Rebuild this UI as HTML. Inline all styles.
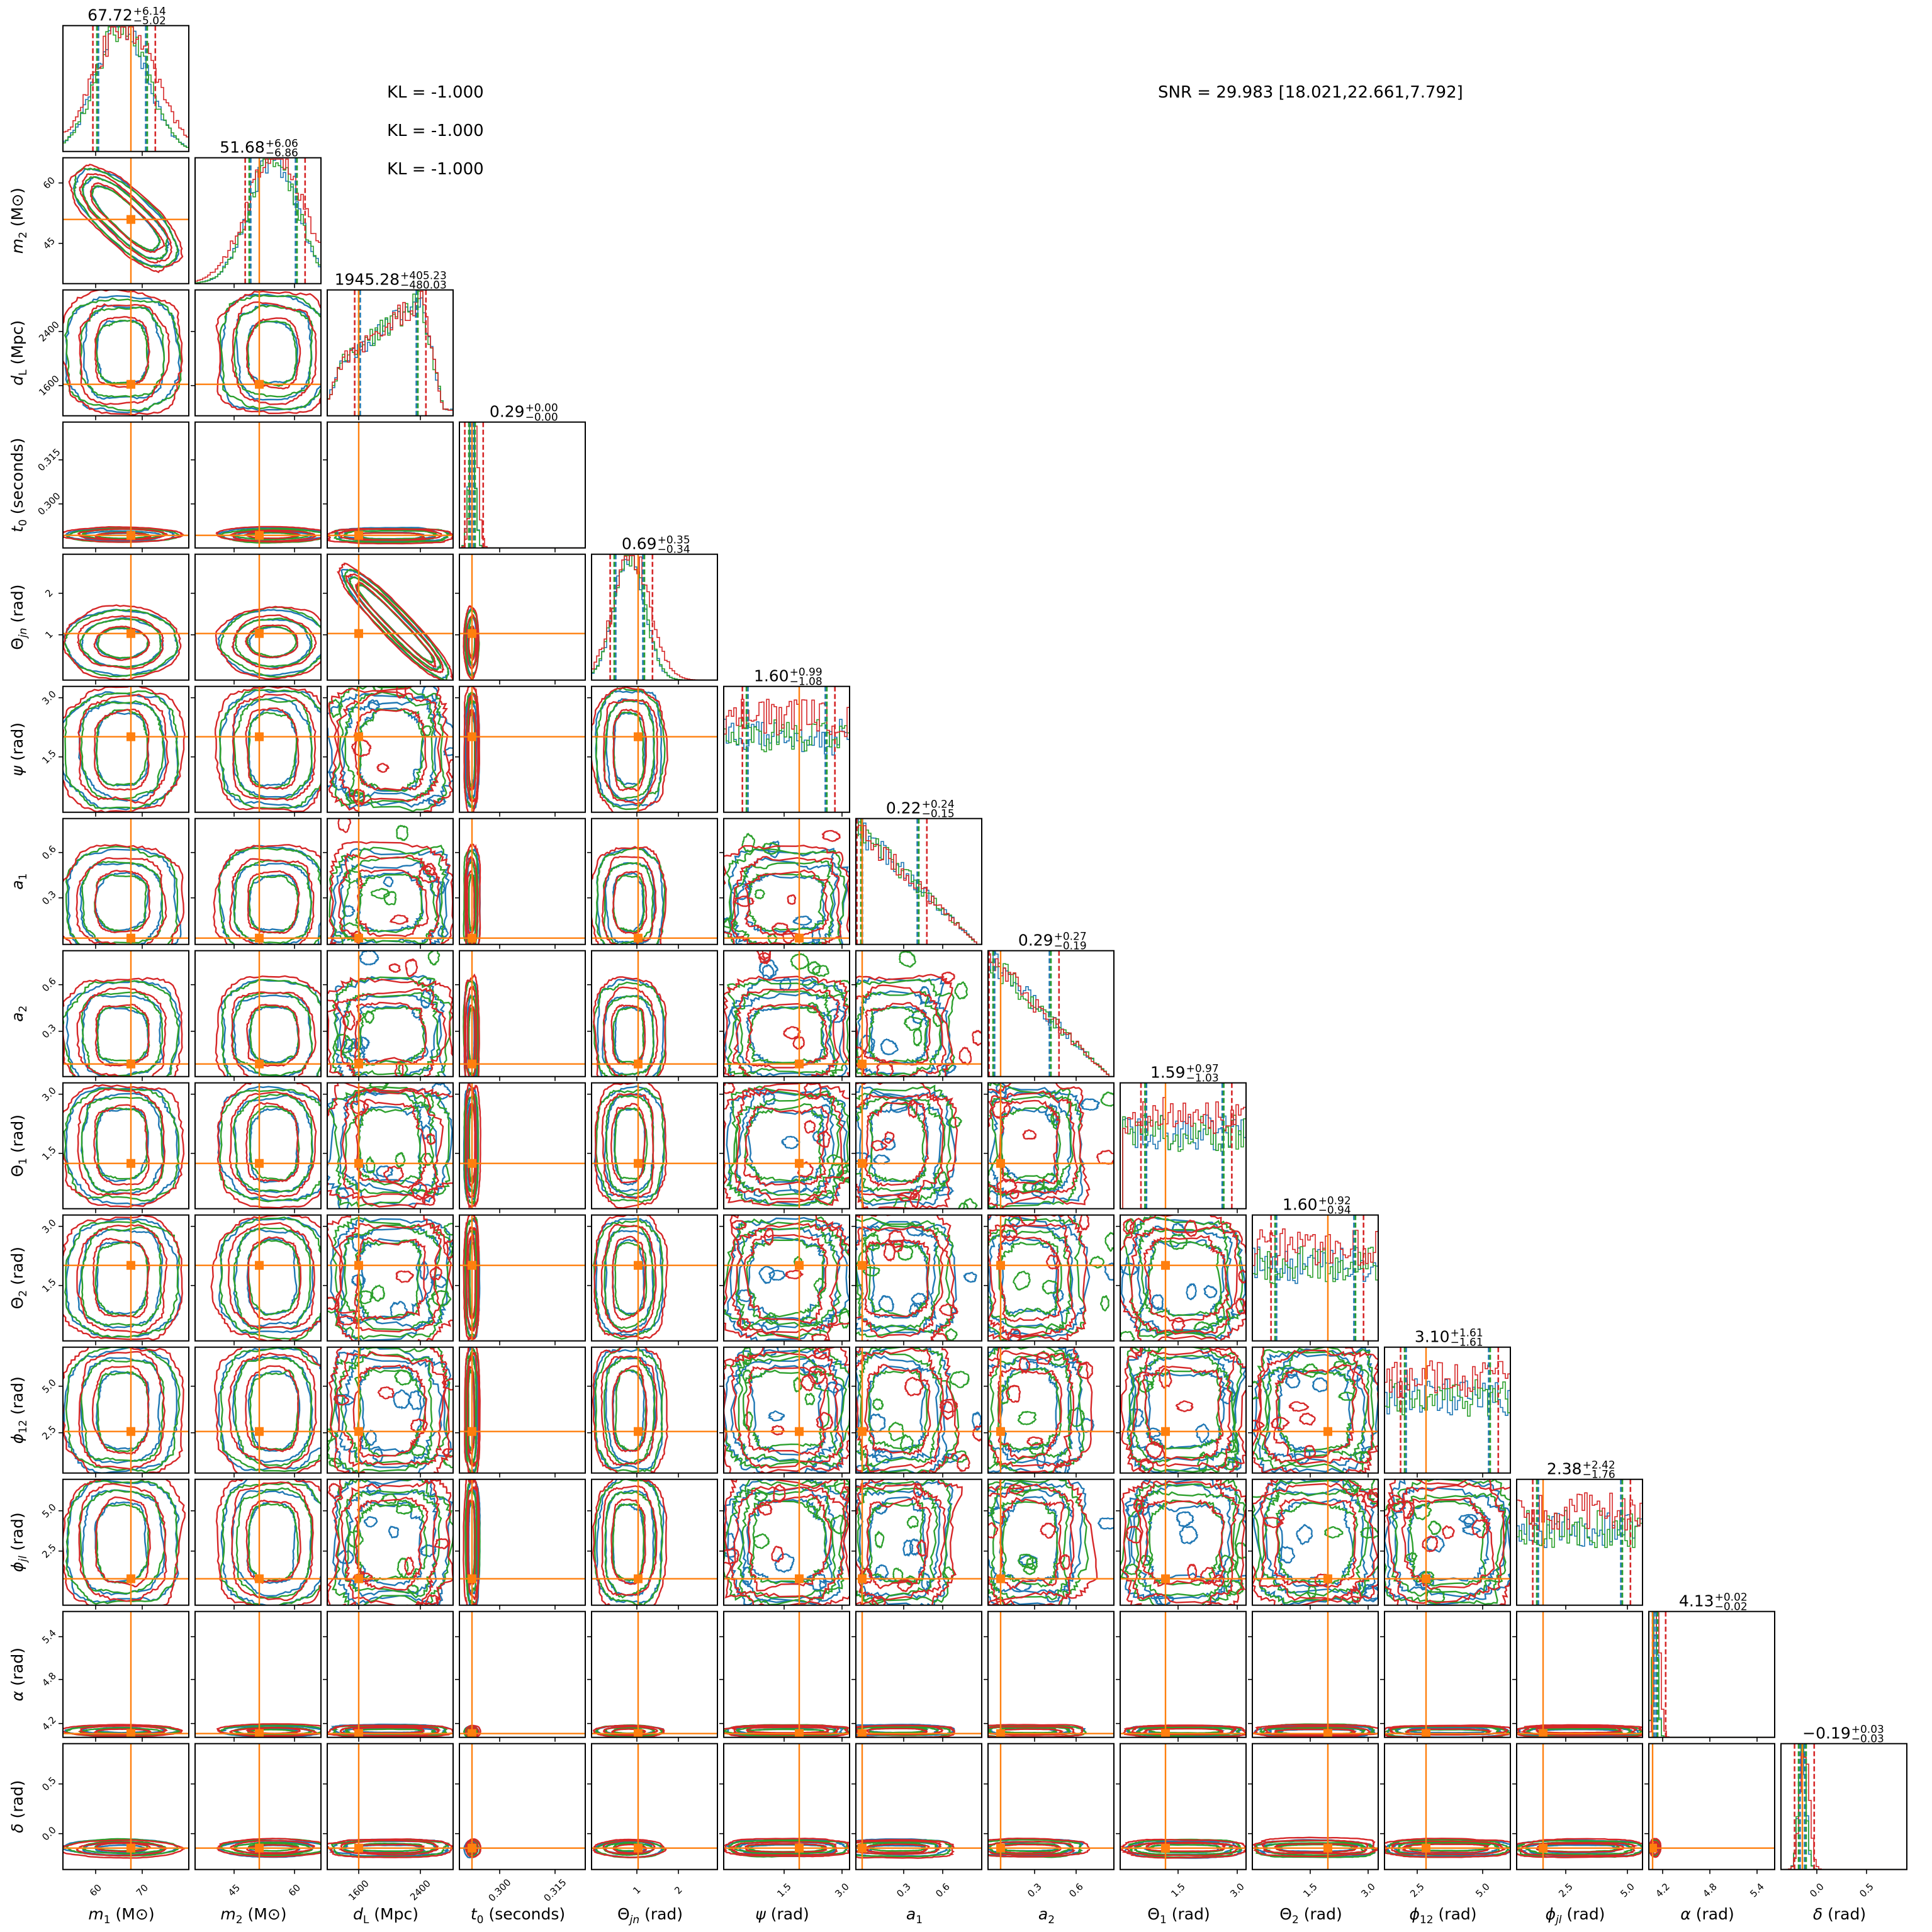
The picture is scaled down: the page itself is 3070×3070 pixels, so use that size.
<!DOCTYPE html>
<html><head><meta charset="utf-8"><style>
html,body{margin:0;padding:0;background:#fff;}
svg{display:block;font-family:"DejaVu Sans","Liberation Sans",sans-serif;}
</style></head><body>
<svg id="s" width="3070" height="3070" viewBox="0 0 3070 3070" xmlns="http://www.w3.org/2000/svg">
<rect width="3070" height="3070" fill="#fff"/>
<text x="615" y="155" font-size="26">KL = -1.000</text>
<text x="615" y="216" font-size="26">KL = -1.000</text>
<text x="615" y="277" font-size="26">KL = -1.000</text>
<text x="1840" y="155" font-size="26">SNR = 29.983 [18.021,22.661,7.792]</text>
<text x="193" y="3050" font-size="25" text-anchor="middle"><tspan font-style="italic">m</tspan><tspan font-size="17" dy="6">1</tspan><tspan dy="-6"> (M</tspan><tspan>⊙)</tspan></text>
<text x="403" y="3050" font-size="25" text-anchor="middle"><tspan font-style="italic">m</tspan><tspan font-size="17" dy="6">2</tspan><tspan dy="-6"> (M⊙)</tspan></text>
<text x="613" y="3050" font-size="25" text-anchor="middle"><tspan font-style="italic">d</tspan><tspan font-size="17" dy="6">L</tspan><tspan dy="-6"> (Mpc)</tspan></text>
<text x="823" y="3050" font-size="25" text-anchor="middle"><tspan font-style="italic">t</tspan><tspan font-size="17" dy="6">0</tspan><tspan dy="-6"> (seconds)</tspan></text>
<text x="1033" y="3050" font-size="25" text-anchor="middle"><tspan>Θ</tspan><tspan font-size="17" dy="6" font-style="italic">jn</tspan><tspan dy="-6"> (rad)</tspan></text>
<text x="1243" y="3050" font-size="25" text-anchor="middle"><tspan font-style="italic">ψ</tspan><tspan> (rad)</tspan></text>
<text x="1453" y="3050" font-size="25" text-anchor="middle"><tspan font-style="italic">a</tspan><tspan font-size="17" dy="6">1</tspan></text>
<text x="1663" y="3050" font-size="25" text-anchor="middle"><tspan font-style="italic">a</tspan><tspan font-size="17" dy="6">2</tspan></text>
<text x="1873" y="3050" font-size="25" text-anchor="middle"><tspan>Θ</tspan><tspan font-size="17" dy="6">1</tspan><tspan dy="-6"> (rad)</tspan></text>
<text x="2083" y="3050" font-size="25" text-anchor="middle"><tspan>Θ</tspan><tspan font-size="17" dy="6">2</tspan><tspan dy="-6"> (rad)</tspan></text>
<text x="2293" y="3050" font-size="25" text-anchor="middle"><tspan font-style="italic">ϕ</tspan><tspan font-size="17" dy="6">12</tspan><tspan dy="-6"> (rad)</tspan></text>
<text x="2503" y="3050" font-size="25" text-anchor="middle"><tspan font-style="italic">ϕ</tspan><tspan font-size="17" dy="6" font-style="italic">jl</tspan><tspan dy="-6"> (rad)</tspan></text>
<text x="2713" y="3050" font-size="25" text-anchor="middle"><tspan font-style="italic">α</tspan><tspan> (rad)</tspan></text>
<text x="2923" y="3050" font-size="25" text-anchor="middle"><tspan font-style="italic">δ</tspan><tspan> (rad)</tspan></text>
<g id="g"></g>
</svg>
<script>
(function(){
var seed=12345;function rnd(){seed|=0;seed=seed+0x6D2B79F5|0;var t=Math.imul(seed^seed>>>15,1|seed);t=t+Math.imul(t^t>>>7,61|t)^t;return((t^t>>>14)>>>0)/4294967296;}
var S=200;function PX(i){return 100+210*i;}function PY(j){return 40.7+210*j;}
var C=['#1f77b4','#2ca02c','#d62728'],OR='#ff7f0e';
var P=[{t:'g',c:.47,s:.2,tr:.54},{t:'g',c:.62,s:.19,tr:.51},{t:'r',tr:.25},{t:'g',c:.1,s:.025,tr:.1},{t:'g',c:.3,s:.12,tr:.37},
{t:'u',lo:.03,hi:.97,tr:.6},{t:'d',tr:.05},{t:'d',tr:.1},{t:'u',lo:.05,hi:.97,tr:.36},{t:'u',lo:.03,hi:.97,tr:.6},{t:'u',lo:0,hi:1,tr:.33},{t:'u',lo:0,hi:1,tr:.21},{t:'g',c:.05,s:.02,tr:.03},{t:'g',c:.17,s:.03,tr:.17}];
var T=[['67.72','+6.14','−5.02'],['51.68','+6.06','−6.86'],['1945.28','+405.23','−480.03'],['0.29','+0.00','−0.00'],['0.69','+0.35','−0.34'],['1.60','+0.99','−1.08'],['0.22','+0.24','−0.15'],['0.29','+0.27','−0.19'],['1.59','+0.97','−1.03'],['1.60','+0.92','−0.94'],['3.10','+1.61','−1.61'],['2.38','+2.42','−1.76'],['4.13','+0.02','−0.02'],['−0.19','+0.03','−0.03']];
var XT=[[[.26,'60'],[.63,'70']],[[.31,'45'],[.79,'60']],[[.25,'1600'],[.74,'2400']],[[.32,'0.300'],[.76,'0.315']],[[.36,'1'],[.69,'2']],[[.48,'1.5'],[.94,'3.0']],[[.38,'0.3'],[.69,'0.6']],[[.37,'0.3'],[.70,'0.6']],[[.46,'1.5'],[.93,'3.0']],[[.46,'1.5'],[.92,'3.0']],[[.26,'2.5'],[.78,'5.0']],[[.39,'2.5'],[.88,'5.0']],[[.11,'4.2'],[.485,'4.8'],[.86,'5.4']],[[.285,'0.0'],[.68,'0.5']]];
var YT=[null,[[.2,'60'],[.68,'45']],[[.33,'2400'],[.76,'1600']],[[.30,'0.315'],[.65,'0.300']],[[.31,'2'],[.64,'1']],[[.09,'3.0'],[.56,'1.5']],[[.27,'0.6'],[.63,'0.3']],[[.27,'0.6'],[.64,'0.3']],[[.09,'3.0'],[.56,'1.5']],[[.09,'3.0'],[.56,'1.5']],[[.31,'5.0'],[.68,'2.5']],[[.25,'5.0'],[.57,'2.5']],[[.2,'5.4'],[.54,'4.8'],[.89,'4.2']],[[.32,'0.5'],[.715,'0.0']]];
var YL=['','<tspan font-style="italic">m</tspan><tspan font-size="17" dy="6">2</tspan><tspan dy="-6"> (M⊙)</tspan>','<tspan font-style="italic">d</tspan><tspan font-size="17" dy="6">L</tspan><tspan dy="-6"> (Mpc)</tspan>','<tspan font-style="italic">t</tspan><tspan font-size="17" dy="6">0</tspan><tspan dy="-6"> (seconds)</tspan>','Θ<tspan font-size="17" dy="6" font-style="italic">jn</tspan><tspan dy="-6"> (rad)</tspan>','<tspan font-style="italic">ψ</tspan> (rad)','<tspan font-style="italic">a</tspan><tspan font-size="17" dy="6">1</tspan>','<tspan font-style="italic">a</tspan><tspan font-size="17" dy="6">2</tspan>','Θ<tspan font-size="17" dy="6">1</tspan><tspan dy="-6"> (rad)</tspan>','Θ<tspan font-size="17" dy="6">2</tspan><tspan dy="-6"> (rad)</tspan>','<tspan font-style="italic">ϕ</tspan><tspan font-size="17" dy="6">12</tspan><tspan dy="-6"> (rad)</tspan>','<tspan font-style="italic">ϕ</tspan><tspan font-size="17" dy="6" font-style="italic">jl</tspan><tspan dy="-6"> (rad)</tspan>','<tspan font-style="italic">α</tspan> (rad)','<tspan font-style="italic">δ</tspan> (rad)'];
var o=[];
function axc(p){if(p.t=='g')return p.c;if(p.t=='u')return (p.lo+p.hi)/2;if(p.t=='r')return .5;return .33;}
function axh(p,l){if(p.t=='g')return p.s*[1,1.6,2.2][l];if(p.t=='u')return (p.hi-p.lo)/2*[.62,.82,.97][l];if(p.t=='r')return [.25,.36,.45][l];return [.22,.32,.42][l];}
function closed(cx,cy,hx,hy,pw,rot,nz){var n=110,ph=[],a=[];for(var k=0;k<9;k++){ph.push(rnd()*6.28);a.push((rnd()-.5)*nz/(1+k*.25));}
var d='';for(var q=0;q<n;q++){var th=q/n*6.283;var r=1;for(k=0;k<9;k++)r+=a[k]*Math.sin((k+2)*th+ph[k]);r+=(rnd()-.5)*nz*.5;
var c=Math.cos(th),s=Math.sin(th);var x=(c<0?-1:1)*Math.pow(Math.abs(c),2/pw)*hx*r,y=(s<0?-1:1)*Math.pow(Math.abs(s),2/pw)*hy*r;
var xr=x*Math.cos(rot)-y*Math.sin(rot),yr=x*Math.sin(rot)+y*Math.cos(rot);
d+=(q?'L':'M')+((cx+xr)*S).toFixed(1)+' '+((1-(cy+yr))*S).toFixed(1);}return d+'Z';}
function pdf(p,u){if(p.t=='g')return Math.exp(-(u-p.c)*(u-p.c)/(2*p.s*p.s));if(p.t=='u'){var e=.03;if(u<p.lo-e||u>p.hi+e)return 0;return .62;}
if(p.t=='r'){if(u<.0)return 0;if(u<.12)return .1+u*3;if(u<.75)return .45+.5*(u-.12)/.63;if(u<.92)return .95-(u-.75)*5.2;return .05;}return Math.max(0,.97-u*1.0);}
for(var j=0;j<14;j++)for(var i=0;i<=j;i++){
var x0=PX(i),y0=PY(j);
o.push('<svg x="'+x0+'" y="'+y0+'" width="'+S+'" height="'+S+'" overflow="hidden">');
if(i==j){var p=P[i];var nb=50;
for(var c=0;c<3;c++){var d='M0 '+S;for(var b=0;b<nb;b++){var u=(b+.5)/nb;var f=pdf(p,u);
if(p.t=='g'){var cs=p.s*(c==2?1.2:1),cc=p.c+(c==2?.02:0);f=Math.exp(-(u-cc)*(u-cc)/(2*cs*cs));f=f*1.05;}
if(f>0)f*=1+(rnd()-.5)*(p.t=='u'?.5:.25);if(p.t=='u'&&c==2&&f>0)f+=.15;f=Math.min(f,1.02);
var xa=b/nb*S,xb=(b+1)/nb*S,yy=(1-f*.97)*S;d+='L'+xa.toFixed(1)+' '+yy.toFixed(1)+'L'+xb.toFixed(1)+' '+yy.toFixed(1);}
d+='L'+S+' '+S;o.push('<path d="'+d+'" fill="none" stroke="'+C[c]+'" stroke-width="1.6"/>');}
var q1,q2;if(p.t=='g'){q1=p.c-p.s;q2=p.c+p.s;}else if(p.t=='u'){q1=p.lo+.16*(p.hi-p.lo);q2=p.lo+.84*(p.hi-p.lo);}else if(p.t=='r'){q1=.25;q2=.72;}else{q1=.04;q2=.5;}
for(c=0;c<3;c++){var dd=(c-1)*.012+(c==2?.02:0);[q1-dd,q2+dd*(c==2?2:1)].forEach(function(q){o.push('<line x1="'+(q*S).toFixed(1)+'" y1="0" x2="'+(q*S).toFixed(1)+'" y2="'+S+'" stroke="'+C[c]+'" stroke-width="2.6" stroke-dasharray="8,4"/>');});}
o.push('<line x1="'+p.tr*S+'" y1="0" x2="'+p.tr*S+'" y2="'+S+'" stroke="'+OR+'" stroke-width="2.4"/>');
}else{var px=P[i],py=P[j];
var corr=(i==0&&j==1)||(i==2&&j==4);
var anyg=px.t=='g'||py.t=='g';
for(var c=0;c<3;c++){var big=c==2?1.08:1;
for(var l=0;l<3;l++){var d;
if(corr){if(i==0)d=closed(.5,.52,[.34,.42,.5][l]*big,[.1,.15,.2][l]*big,2.6,-.75,.06);else d=closed(.54,.45,[.42,.5,.58][l]*big,[.05,.08,.11][l]*big,2.4,-.8,.06);}
else{var bothg=px.t=='g'&&py.t=='g';var pw=bothg?2:anyg?3:4;
var nz=bothg?.06:anyg?.08:.16;d=closed(axc(px)+(rnd()-.5)*.02,axc(py)+(rnd()-.5)*.02,axh(px,l)*big,axh(py,l)*big,pw,0,nz);}
o.push('<path d="'+d+'" fill="none" stroke="'+C[c]+'" stroke-width="2.4"/>');}
if(!anyg&&!corr){for(var k=0;k<5;k++){var bx=rnd(),by=rnd();o.push('<path d="'+closed(bx,by,.03+rnd()*.04,.03+rnd()*.04,2,0,.2)+'" fill="none" stroke="'+C[c]+'" stroke-width="2.2"/>');}}}
var tx=px.tr*S,ty=(1-py.tr)*S;
o.push('<line x1="'+tx+'" y1="0" x2="'+tx+'" y2="'+S+'" stroke="'+OR+'" stroke-width="2.4"/><line x1="0" y1="'+ty+'" x2="'+S+'" y2="'+ty+'" stroke="'+OR+'" stroke-width="2.4"/><rect x="'+(tx-7)+'" y="'+(ty-7)+'" width="14" height="14" fill="'+OR+'"/>');}
o.push('</svg>');
o.push('<rect x="'+x0+'" y="'+y0+'" width="'+S+'" height="'+S+'" fill="none" stroke="#000" stroke-width="2"/>');
XT[i].forEach(function(t){var xx=x0+t[0]*S;o.push('<line x1="'+xx+'" y1="'+(y0+S)+'" x2="'+xx+'" y2="'+(y0+S+7)+'" stroke="#000" stroke-width="1.6"/>');
if(j==13)o.push('<text x="'+xx+'" y="'+(y0+S+38)+'" font-size="15" text-anchor="middle" transform="rotate(-45 '+xx+' '+(y0+S+33)+')">'+t[1]+'</text>');});
if(i!=j&&YT[j])YT[j].forEach(function(t){var yy=y0+t[0]*S;o.push('<line x1="'+(x0-7)+'" y1="'+yy+'" x2="'+x0+'" y2="'+yy+'" stroke="#000" stroke-width="1.6"/>');
if(i==0)o.push('<text x="78" y="'+(yy+5)+'" font-size="15" text-anchor="middle" transform="rotate(-45 78 '+yy+')">'+t[1]+'</text>');});
if(i==j){var tt=T[i];var mw=tt[0].length*14.3,sw=tt[1].length*10;var ax=x0+S/2+(mw-sw)/2;
o.push('<text x="'+ax+'" y="'+(y0-8)+'" font-size="25" text-anchor="end">'+tt[0]+'</text><text x="'+(ax+1)+'" y="'+(y0-17)+'" font-size="17">'+tt[1]+'</text><text x="'+(ax+1)+'" y="'+(y0-2)+'" font-size="17">'+tt[2]+'</text>');}
}
for(j=1;j<14;j++){var cy=PY(j)+S/2;o.push('<text x="36" y="'+cy+'" font-size="25" text-anchor="middle" transform="rotate(-90 36 '+cy+')">'+YL[j]+'</text>');}
document.getElementById('g').innerHTML=o.join('');
})();
</script>
</body></html>
